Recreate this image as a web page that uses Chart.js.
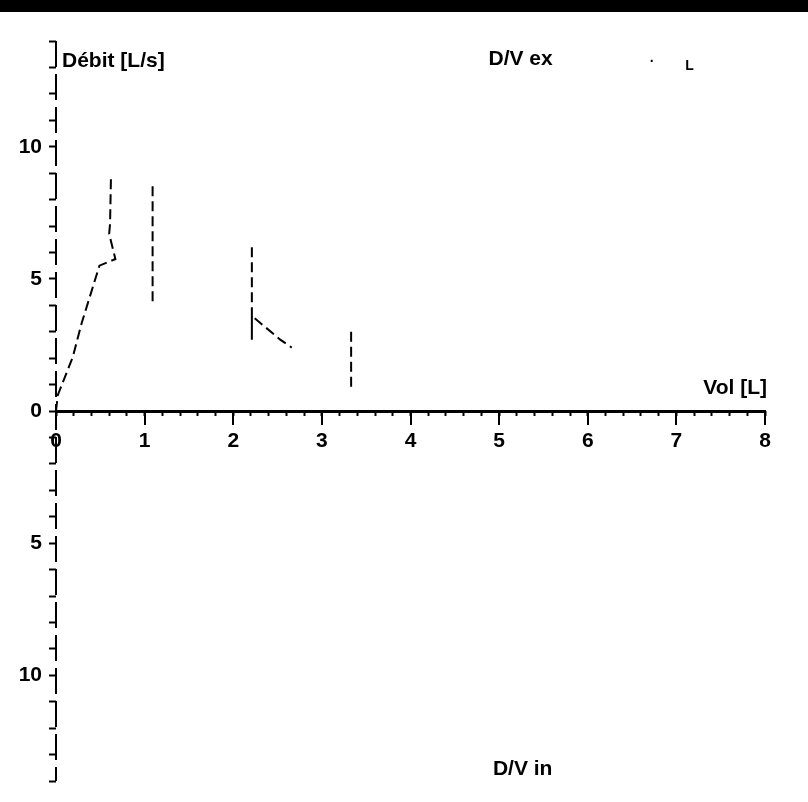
<!DOCTYPE html>
<html>
<head>
<meta charset="utf-8">
<script src="https://cdn.jsdelivr.net/npm/chart.js@4"></script>
<style>
  body { margin: 0; background: #fff; }
  #bar { position: absolute; left: 0; top: 0; width: 808px; height: 12px; background: #000; }
  #wrap { position: absolute; left: 0; top: 12px; width: 808px; height: 790px; }
</style>
</head>
<body>
<div id="bar"></div>
<div id="wrap"><canvas id="dvChart" width="808" height="790"></canvas></div>
<script>
// courbe débit / volume (expiration)
const exVol  = [0, 0.02, 0.19, 0.29, 0.49, 0.67, 0.60, 0.61, 0.62, null, 1.09, 1.09, null, 2.21, 2.21, 2.21, 2.53, 2.66, null, 3.33, 3.33];
const exFlow = [0, 0.6, 2.05, 3.33, 5.5, 5.75, 6.7, 7.1, 8.8, null, 8.5, 4.0, null, 6.2, 2.7, 3.6, 2.7, 2.4, null, 3.0, 0.9];

const xTicks = [0, 1, 2, 3, 4, 5, 6, 7, 8];
const yTicks = [-10, -5, 0, 5, 10];

const xTitle = "Vol [L]";
const yTitle = "Débit [L/s]";
const exLabel = "D/V ex";
const inLabel = "D/V in";

Chart.defaults.font.family = "'Liberation Sans', 'DejaVu Sans', sans-serif";
Chart.defaults.font.size = 21;
Chart.defaults.font.weight = "bold";
Chart.defaults.color = "#000";

const exPoints = exVol.map((v, i) => ({ x: v, y: exFlow[i] }));

// textes libres : titres des axes et noms des courbes
const freeLabels = {
  id: "freeLabels",
  afterDraw(chart) {
    const { ctx, scales: { x, y } } = chart;
    ctx.save();
    ctx.fillStyle = "#000";
    ctx.font = "bold 21px 'Liberation Sans', sans-serif";
    ctx.textBaseline = "middle";
    ctx.textAlign = "left";
    ctx.fillText(yTitle, x.getPixelForValue(0) + 6, y.getPixelForValue(13.25));
    ctx.fillText(exLabel, x.getPixelForValue(4.88), y.getPixelForValue(13.3));
    ctx.fillText(inLabel, x.getPixelForValue(4.93), y.getPixelForValue(-13.55));
    ctx.textAlign = "right";
    ctx.fillText(xTitle, x.getPixelForValue(8) + 2, y.getPixelForValue(0.87));
    ctx.textAlign = "left";
    ctx.font = "bold 14px 'Liberation Sans', sans-serif";
    ctx.fillText("·", x.getPixelForValue(6.7), y.getPixelForValue(13.2));
    ctx.fillText("L", x.getPixelForValue(7.1), y.getPixelForValue(13.05));
    ctx.restore();
  }
};

const dvConfig = {
  type: "scatter",
  data: {
    datasets: [
      {
        label: exLabel,
        data: exPoints,
        showLine: true,
        spanGaps: false,
        borderColor: "#000",
        borderWidth: 2,
        borderDash: [10, 5],
        pointRadius: 0,
        fill: false,
      },
    ],
  },
  options: {
    responsive: false,
    animation: false,
    layout: { padding: { left: 0, right: 43, top: 29, bottom: 21 } },
    plugins: {
      legend: { display: false },
      tooltip: { enabled: false },
    },
    scales: {
      x: {
        type: "linear",
        position: { y: 0 },
        min: 0,
        max: 8,
        afterBuildTicks: (scale) => { scale.ticks = xTicks.map(v => ({ value: v })); },
        ticks: { padding: 6, autoSkip: false, maxRotation: 0 },
        // la ligne de grille à 0 sert d'axe vertical pointillé
        grid: {
          drawOnChartArea: true,
          color: (c) => c.tick && c.tick.value === 0 ? "#000" : "rgba(0,0,0,0)",
          lineWidth: 2,
          tickLength: 12,
          tickWidth: 2,
          tickColor: "#000",
        },
        border: { color: "#000", width: 3, dash: [26, 7] },
      },
      x2: {
        type: "linear",
        position: { y: 0 },
        min: 0,
        max: 8,
        ticks: { display: false, stepSize: 0.2, autoSkip: false },
        grid: { drawOnChartArea: false, tickLength: 5, tickWidth: 2, color: "#000" },
        border: { display: false },
      },
      y: {
        type: "linear",
        position: "left",
        min: -14,
        max: 14,
        afterFit: (scale) => { scale.width = 56; },
        ticks: {
          stepSize: 1,
          autoSkip: false,
          padding: 7,
          callback: (v) => yTicks.includes(v) ? String(Math.abs(v)) : "",
        },
        grid: { drawOnChartArea: false, tickLength: 7, tickWidth: 2, color: "#000" },
        border: { display: false },
      },
    },
  },
  plugins: [freeLabels],
};

const dvCtx = document.getElementById("dvChart").getContext("2d");
const dvChart = new Chart(dvCtx, dvConfig);
</script>
</body>
</html>
